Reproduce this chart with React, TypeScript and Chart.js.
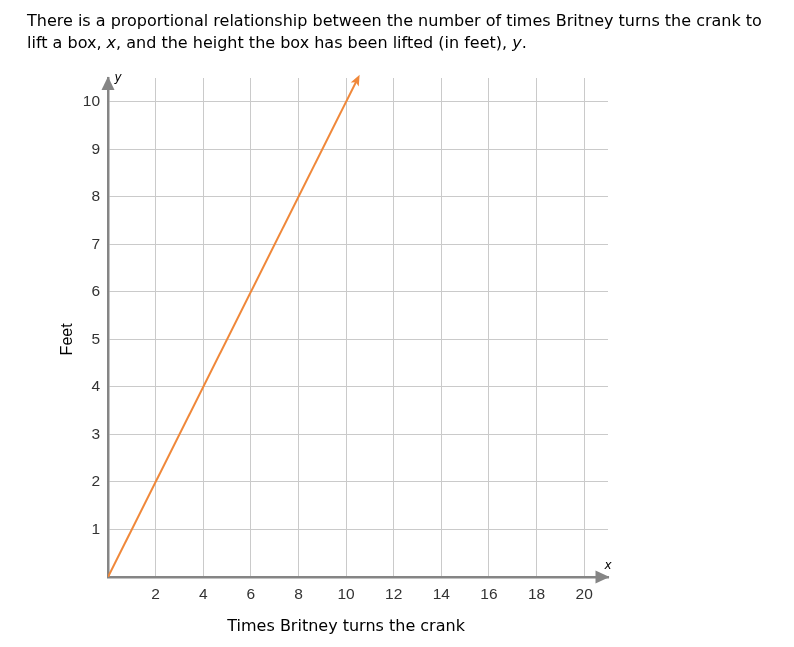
import React, { useEffect, useRef } from "react";
import { Chart, registerables } from "chart.js";

Chart.register(...registerables);

const lineX = [0, 10.55];
const lineY = [0, 10.55];
const xTicks = [2, 4, 6, 8, 10, 12, 14, 16, 18, 20];
const yTicks = [1, 2, 3, 4, 5, 6, 7, 8, 9, 10];
const xMax = 21;
const yMax = 10.5;
const xTitle = "Times Britney turns the crank";
const yTitle = "Feet";

const AXIS = "#858585";
const GRID = "#cacaca";
const ORANGE = "#f0883a";
const FONT = "'DejaVu Sans', Verdana, sans-serif";
const SANS = "'Liberation Sans', Arial, sans-serif";

const overlay = {
  id: "overlay",
  afterDatasetsDraw(chart: any) {
    const meta = chart.getDatasetMeta(0);
    const pts = meta.data;
    if (pts.length < 2) return;
    const a = pts[pts.length - 2];
    const b = pts[pts.length - 1];
    const ang = Math.atan2(b.y - a.y, b.x - a.x);
    const ctx = chart.ctx;
    ctx.save();
    ctx.fillStyle = ORANGE;
    ctx.translate(b.x, b.y);
    ctx.rotate(ang);
    ctx.beginPath();
    ctx.moveTo(1, 0);
    ctx.lineTo(-10, -4.5);
    ctx.lineTo(-7.5, 0);
    ctx.lineTo(-10, 4.5);
    ctx.closePath();
    ctx.fill();
    ctx.restore();
  },
  afterDraw(chart: any) {
    const ctx = chart.ctx;
    const { left, right, top, bottom } = chart.chartArea;
    const xs = chart.scales.x;
    const ys = chart.scales.y;
    ctx.save();
    ctx.fillStyle = AXIS;
    ctx.beginPath();
    ctx.moveTo(left, top - 1.5);
    ctx.lineTo(left - 6.5, top + 12);
    ctx.lineTo(left + 6.5, top + 12);
    ctx.closePath();
    ctx.fill();
    ctx.beginPath();
    ctx.moveTo(right + 1.5, bottom);
    ctx.lineTo(right - 12.5, bottom - 6.5);
    ctx.lineTo(right - 12.5, bottom + 6.5);
    ctx.closePath();
    ctx.fill();

    ctx.fillStyle = "#000";
    ctx.textAlign = "center";
    ctx.textBaseline = "middle";
    ctx.font = "oblique 12px " + FONT;
    ctx.fillText("x", right, bottom - 11);
    ctx.fillText("y", left + 10, top);

    ctx.font = "16px " + FONT;
    ctx.textBaseline = "alphabetic";
    ctx.fillText(xTitle, xs.getPixelForValue(10), 631);

    ctx.translate(68, ys.getPixelForValue(5));
    ctx.rotate(-Math.PI / 2);
    ctx.font = "16px " + SANS;
    ctx.textBaseline = "middle";
    ctx.fillText(yTitle, 0, 0);
    ctx.restore();
  },
};

function ChartView() {
  const ref = useRef<HTMLCanvasElement | null>(null);
  useEffect(() => {
    if (!ref.current) return;
    const chart = new Chart(ref.current, {
      type: "scatter",
      data: {
        datasets: [
          {
            data: lineX.map((x, i) => ({ x, y: lineY[i] })),
            showLine: true,
            borderColor: ORANGE,
            borderWidth: 2,
            pointRadius: 0,
            fill: false,
          },
        ],
      },
      options: {
        animation: false,
        responsive: false,
        events: [],
        layout: { padding: { left: 0, top: 78, right: 186, bottom: 0 } },
        plugins: { legend: { display: false }, tooltip: { enabled: false } },
        scales: {
          x: {
            type: "linear",
            min: 0,
            max: xMax,
            afterBuildTicks: (s: any) => {
              s.ticks = xTicks.map((v) => ({ value: v }));
            },
            afterFit: (s: any) => {
              s.height = 70;
            },
            grid: { color: GRID, lineWidth: 1, drawTicks: false },
            border: { display: true, color: AXIS, width: 2.5 },
            ticks: {
              padding: 8,
              color: "#333",
              font: { family: SANS, size: 15.5 },
              maxRotation: 0,
              autoSkip: false,
            },
          },
          y: {
            type: "linear",
            min: 0,
            max: yMax,
            afterBuildTicks: (s: any) => {
              s.ticks = yTicks.map((v) => ({ value: v }));
            },
            afterFit: (s: any) => {
              s.width = 108;
            },
            grid: { color: GRID, lineWidth: 1, drawTicks: false },
            border: { display: true, color: AXIS, width: 2.5 },
            ticks: {
              padding: 8,
              color: "#333",
              font: { family: SANS, size: 15.5 },
              autoSkip: false,
            },
          },
        },
      },
      plugins: [overlay],
    } as any);
    return () => chart.destroy();
  }, []);
  return <canvas ref={ref} width={794} height={647} style={{ display: "block" }} />;
}

export default function App() {
  return (
    <div style={{ position: "absolute", left: 0, top: 0, width: 794, height: 647, background: "#fff" }}>
      <ChartView />
      <div
        style={{
          position: "absolute",
          left: 27,
          top: 10,
          fontFamily: FONT,
          fontSize: 16,
          lineHeight: "22px",
          color: "#000",
          whiteSpace: "nowrap",
        }}
      >
        There is a proportional relationship between the number of times Britney turns the crank to
        <br />
        lift a box, <i>x</i>, and the height the box has been lifted (in feet), <i>y</i>.
      </div>
    </div>
  );
}
